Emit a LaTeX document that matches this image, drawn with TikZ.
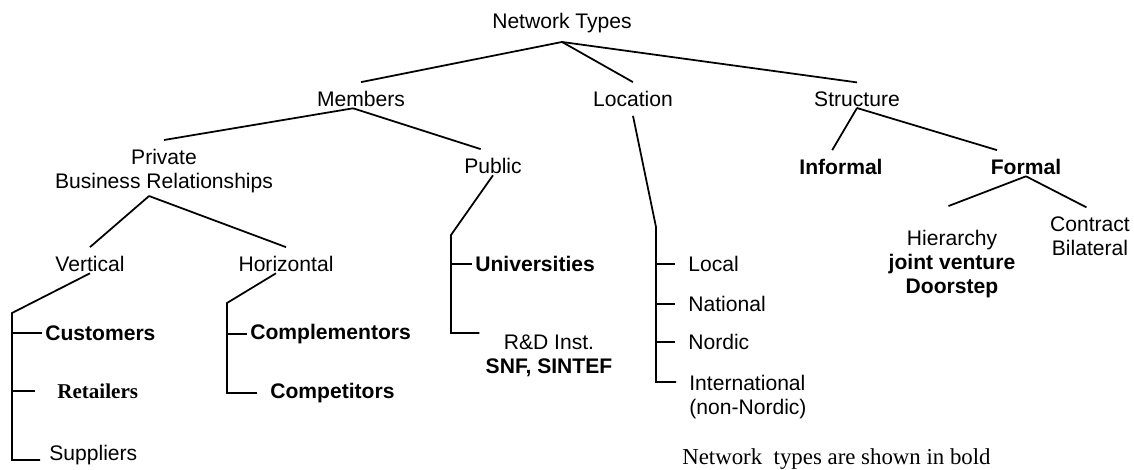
\documentclass[tikz,border=0pt]{standalone}
\usepackage{fontspec}
\setmainfont{Liberation Sans}
\newfontfamily\serifa{Liberation Serif}
\usepackage{xcolor}
\usepackage{tikz}
\definecolor{tinta}{HTML}{000000}

\begin{document}
\begin{tikzpicture}[x=0.02cm,y=-0.02cm,
  font=\fontsize{12}{13.7}\selectfont,
  rama/.style={inner xsep=0pt,inner ysep=5pt,align=center,text=tinta},
  hoja/.style={inner sep=0pt,align=left,text=tinta},
  tipo/.style={font=\fontsize{12}{13.7}\selectfont\bfseries},
  linea/.style={line width=1pt,tinta}]
\useasboundingbox (0,0) rectangle (1134,470);
% ramas
\node[rama] (nt) at (562,23) {Network Types};
\node[rama] (members) at (361,99) {Members};
\node[rama] (location) at (633,99) {Location};
\node[rama] (structure) at (857,99) {Structure};
\node[rama] (private) at (164,171) {Private\\Business Relationships};
\node[rama] (public) at (493,166) {Public};
\node[rama] (vertical) at (90,264) {Vertical};
\node[rama] (horizontal) at (286,264) {Horizontal};
\node[rama,tipo] (informal) at (841,167) {Informal};
\node[rama,tipo] (formal) at (1026,167) {Formal};
\node[rama] (hierarchy) at (952,264) {Hierarchy\\\textbf{joint venture}\\\textbf{Doorstep}};
\node[rama] (contract) at (1090,236) {Contract\\Bilateral};
% hojas
\node[hoja,tipo,anchor=west] (customers) at (45,333) {Customers};
\node[hoja,anchor=west,font=\fontsize{12}{13.7}\selectfont\serifa\bfseries] (retailers) at (57,391) {Retailers};
\node[hoja,anchor=base west] (suppliers) at (49,460) {Suppliers};
\node[hoja,tipo,anchor=west] (complementors) at (250,334) {Complementors};
\node[hoja,tipo,anchor=west] (competitors) at (270,393) {Competitors};
\node[hoja,tipo,anchor=west] (universities) at (475,264) {Universities};
\node[hoja,align=center] (rd) at (549,356) {R\&D Inst.\\\textbf{SNF, SINTEF}};
\node[hoja,anchor=west] (local) at (688,264) {Local};
\node[hoja,anchor=west] (national) at (688,304) {National};
\node[hoja,anchor=west] (nordic) at (688,342) {Nordic};
\node[hoja,anchor=north west] (intl) at (689,375) {International\\(non-Nordic)};
\node[hoja,anchor=west,font=\fontsize{13}{15}\selectfont\serifa] (nota) at (682,459) {Network\ \ types are shown in bold};
% esquinas de los corchetes
\coordinate (vb) at (12,313);
\coordinate (hb) at (227,303);
\coordinate (pb) at (451,235);
\coordinate (lb) at (656,227);
% lineas
\draw[linea] (nt.south) -- (members.north);
\draw[linea] (nt.south) -- (location.north);
\draw[linea] (nt.south) -- (structure.north);
\draw[linea] ([xshift=-4.5pt,yshift=-1pt]members.base) -- (private.north);
\draw[linea] ([xshift=-4.5pt,yshift=-1pt]members.base) -- ([xshift=-7pt]public.north);
\draw[linea] ([xshift=-8.5pt,yshift=3.4pt]private.south) -- (vertical.north);
\draw[linea] ([xshift=-8.5pt,yshift=3.4pt]private.south) -- (horizontal.north);
\draw[linea] ([yshift=-1pt]vertical.base) -- (vb) |- ([xshift=-5pt]suppliers.base west);
\draw[linea] (vb |- customers.west) -- ([xshift=-1.7pt]customers.west);
\draw[linea] (vb |- retailers.west) -- ([xshift=-12.5pt]retailers.west);
\draw[linea] ([xshift=-5.7pt,yshift=-1pt]horizontal.base) -- (hb) |- ([xshift=-7.4pt]competitors.west);
\draw[linea] (hb |- complementors.west) -- ([xshift=-1.7pt]complementors.west);
\draw[linea] ([yshift=-1pt]public.base) -- (pb) |- ([xshift=-3.4pt,yshift=1pt]rd.north west);
\draw[linea] (pb |- universities.west) -- ([xshift=-1.7pt]universities.west);
\draw[linea] (location.south) -- (lb) |- ([xshift=-7.4pt,yshift=-4pt]intl.north west);
\foreach \n in {local,national,nordic}
  \draw[linea] (lb |- \n.west) -- ([xshift=-7.4pt]\n.west);
\draw[linea] ([yshift=-1pt]structure.base) -- ([xshift=-5pt]informal.north);
\draw[linea] ([yshift=-1pt]structure.base) -- ([xshift=-16.5pt]formal.north);
\draw[linea] ([yshift=-1pt]formal.base) -- ([xshift=-2pt,yshift=8.5pt]hierarchy.north);
\draw[linea] ([yshift=-1pt]formal.base) -- ([xshift=-2pt]contract.north);
\end{tikzpicture}
\end{document}
